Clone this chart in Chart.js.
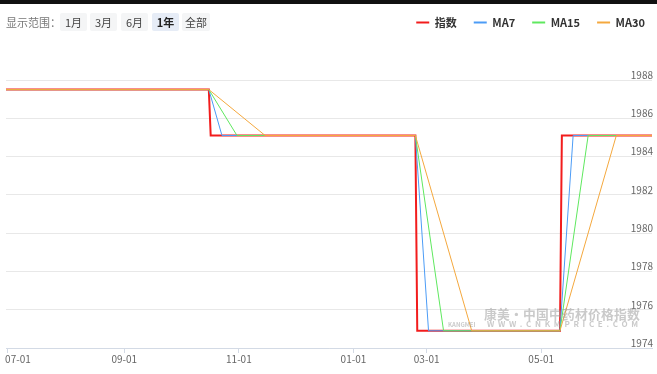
<!DOCTYPE html>
<html>
<head>
<meta charset="utf-8">
<script src="https://cdn.jsdelivr.net/npm/chart.js@4.4.0/dist/chart.umd.min.js"></script>
<style>
  html, body { margin: 0; padding: 0; background: #fff; }
  body { width: 657px; height: 374px; position: relative; overflow: hidden; font-family: "Noto Sans CJK SC", sans-serif; }
  #topBar { position: absolute; left: 0; top: 0; width: 657px; height: 4px; background: #111; }
  #range { position: absolute; left: 6px; top: 13px; font-size: 11px; color: #777; line-height: 18px; }
  .btn { position: absolute; top: 13px; height: 18px; line-height: 18px; font-size: 11px; color: #444; background: #f4f5f6; text-align: center; border-radius: 2px; }
  .btn.on { background: #e6ecf6; font-weight: bold; color: #222; }
  .mark { position: absolute; font-weight: bold; color: rgba(150,150,150,0.5); white-space: nowrap; }
  #chartBox { position: absolute; left: 0; top: 0; width: 657px; height: 374px; }
</style>
</head>
<body>
<div id="chartBox"><canvas id="priceChart" width="657" height="374"></canvas></div>
<div id="topBar"></div>
<div id="range">显示范围：</div>
<div class="btn" style="left:60px;width:27px">1月</div>
<div class="btn" style="left:90px;width:27px">3月</div>
<div class="btn" style="left:121px;width:27px">6月</div>
<div class="btn on" style="left:152px;width:27px">1年</div>
<div class="btn" style="left:182px;width:28px">全部</div>
<div class="mark" style="left:484px;top:304px;font-size:12.8px;letter-spacing:0.2px">康美·中国中药材价格指数</div>
<div class="mark" style="left:448px;top:320px;font-size:6px">KANGMEI</div>
<div class="mark" style="left:487px;top:318px;font-size:8px;letter-spacing:3.7px">WWW.CNKMPRICE.COM</div>
<script>
  // trục x: vị trí điểm (mỗi ngày giao dịch = 1 bước)
  const tickPos = [1, 63, 124, 185, 224, 285];
  const tickLabels = ['07-01', '09-01', '11-01', '01-01', '03-01', '05-01'];

  // Chỉ số và các đường MA (điểm gãy)
  const indexX = [0, 108, 109, 218, 219, 295, 296, 344];
  const indexY = [1987.5, 1987.5, 1985.1, 1985.1, 1974.9, 1974.9, 1985.1, 1985.1];
  const ma7X = [0, 108, 115, 218, 225, 295, 302, 344];
  const ma7Y = [1987.5, 1987.5, 1985.1, 1985.1, 1974.9, 1974.9, 1985.1, 1985.1];
  const ma15X = [0, 108, 123, 218, 233, 295, 310, 344];
  const ma15Y = [1987.5, 1987.5, 1985.1, 1985.1, 1974.9, 1974.9, 1985.1, 1985.1];
  const ma30X = [0, 108, 138, 218, 248, 295, 325, 344];
  const ma30Y = [1987.5, 1987.5, 1985.1, 1985.1, 1974.9, 1974.9, 1985.1, 1985.1];

  const FONT = '"Noto Sans CJK SC", sans-serif';
  const toPts = (xs, ys) => xs.map((x, i) => ({ x: x, y: ys[i] }));

  function makeSeries(label, xs, ys, color, width, order) {
    return {
      label: label,
      data: toPts(xs, ys),
      borderColor: color,
      backgroundColor: color,
      borderWidth: width,
      pointRadius: 0,
      tension: 0,
      order: order
    };
  }

  // Đẩy vùng vẽ xuống dưới legend và dịch legend sang phải
  const legendTweak = {
    id: 'legendTweak',
    beforeInit(chart) {
      const fit = chart.legend.fit;
      chart.legend.fit = function () {
        fit.call(this);
        this.height = 80;
      };
    },
    afterLayout(chart) {
      chart.legend.right += 8;
    }
  };

  const ctx = document.getElementById('priceChart').getContext('2d');
  const chart = new Chart(ctx, {
    type: 'line',
    data: {
      datasets: [
        makeSeries('指数', indexX, indexY, '#f21c1c', 2, 3),
        makeSeries('MA7', ma7X, ma7Y, '#4c9cf6', 1, 2),
        makeSeries('MA15', ma15X, ma15Y, '#5fe85f', 1, 1),
        makeSeries('MA30', ma30X, ma30Y, '#f4a83e', 1, 0)
      ]
    },
    options: {
      responsive: false,
      animation: false,
      layout: { padding: { left: 6, right: 3, top: 0, bottom: 9 } },
      plugins: {
        tooltip: { enabled: false },
        legend: {
          position: 'top',
          align: 'end',
          labels: {
            boxWidth: 13,
            boxHeight: 2,
            padding: 17,
            color: '#333',
            font: { family: FONT, size: 11, weight: 'bold' },
            sort: (a, b) => a.datasetIndex - b.datasetIndex,
            generateLabels: (chart) => Chart.defaults.plugins.legend.labels.generateLabels(chart)
              .map(it => Object.assign(it, { lineWidth: 0 }))
          }
        }
      },
      scales: {
        x: {
          type: 'linear',
          min: 0,
          max: 344,
          afterBuildTicks: s => { s.ticks = tickPos.map(v => ({ value: v })); },
          afterFit: s => { s.paddingLeft = 0; s.paddingRight = 0; },
          ticks: {
            autoSkip: false,
            maxRotation: 0,
            padding: 0,
            color: '#666',
            font: { family: FONT, size: 10 },
            callback: (v) => {
              const i = tickPos.indexOf(v);
              if (i < 0) return '';
              return (i === 0 ? '         ' : '') + tickLabels[i];
            }
          },
          grid: { drawOnChartArea: false, drawTicks: true, tickLength: 5, color: '#d3dae5' },
          border: { color: '#d3dae5' }
        },
        y: {
          position: 'right',
          min: 1974,
          max: 1988,
          ticks: {
            stepSize: 2,
            mirror: true,
            padding: 1,
            labelOffset: -5,
            color: '#666',
            font: { family: FONT, size: 10 },
            callback: v => String(v)
          },
          grid: { color: '#e8e8e8', drawTicks: false },
          border: { display: false }
        }
      }
    },
    plugins: [legendTweak]
  });
</script>
</body>
</html>
